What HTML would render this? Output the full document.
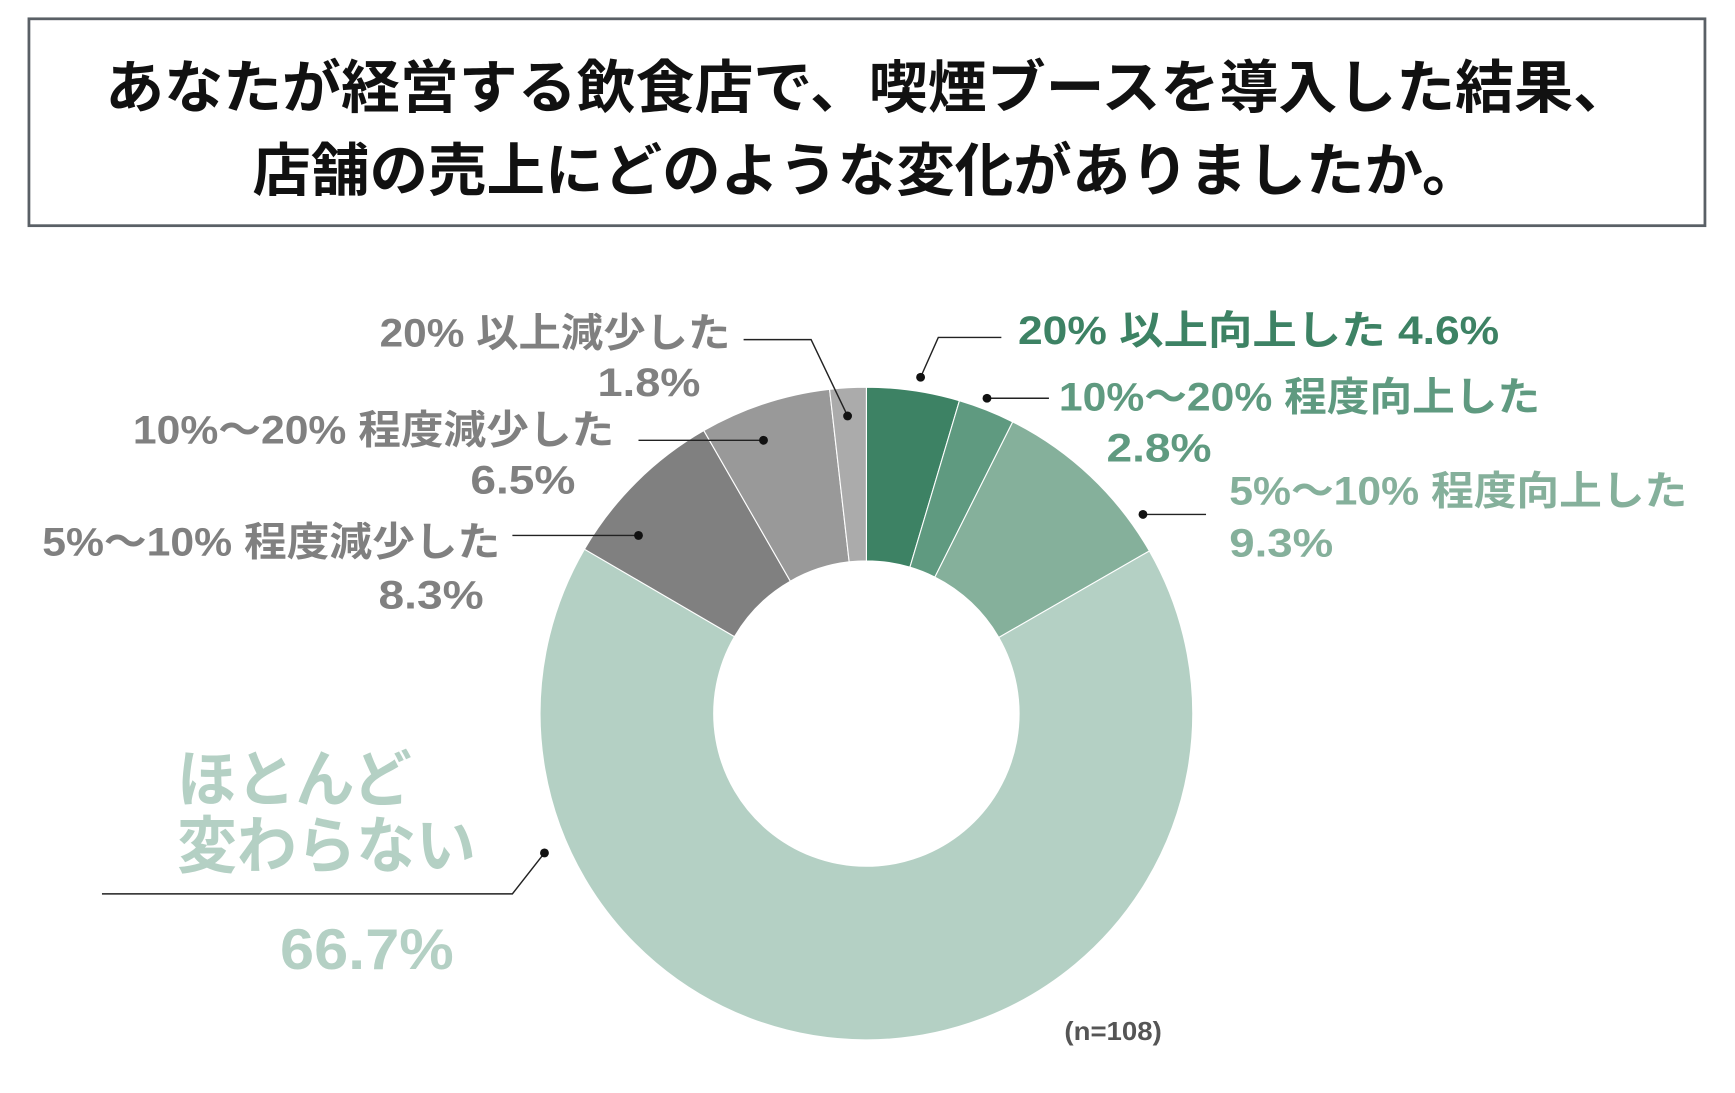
<!DOCTYPE html>
<html><head><meta charset="utf-8"><style>
html,body{margin:0;padding:0;background:#fff;}
svg{display:block;}
text{font-family:"Liberation Sans","Noto Sans CJK JP",sans-serif;font-weight:bold;}
</style></head><body>
<svg id="s" width="1735" height="1093" viewBox="0 0 1568 988" xmlns="http://www.w3.org/2000/svg">
<rect x="26" y="17" width="1515" height="187" fill="#fff" stroke="#5a6066" stroke-width="2.5"/>
<text x="95" y="97" font-size="52" fill="#111" textLength="1380" lengthAdjust="spacingAndGlyphs">あなたが経営する飲食店で、喫煙ブースを導入した結果、</text>
<text x="228" y="172" font-size="52" fill="#111" textLength="1110" lengthAdjust="spacingAndGlyphs">店舗の売上にどのような変化がありましたか。</text>
<g id="pie"></g>
<g stroke="#222" stroke-width="1.3" fill="none">
<polyline points="832,341 848,305 905,305"/>
<polyline points="892,360 948,360"/>
<polyline points="1033,465 1090,465"/>
<polyline points="672,307 733,307 766,376"/>
<polyline points="577,398 690,398"/>
<polyline points="463,484 577,484"/>
<polyline points="92,808 463,808 492,771"/>
</g>
<g fill="#111">
<circle cx="832" cy="341" r="4"/><circle cx="892" cy="360" r="4"/><circle cx="1033" cy="465" r="4"/>
<circle cx="766" cy="376" r="4"/><circle cx="690" cy="398" r="4"/><circle cx="577" cy="484" r="4"/><circle cx="492" cy="771" r="4"/>
</g>
<g font-size="36" lengthAdjust="spacingAndGlyphs">
<text x="920" y="311" fill="#3d8264" textLength="435" lengthAdjust="spacingAndGlyphs">20% 以上向上した  4.6%</text>
<text x="957" y="371" fill="#5f9a80" textLength="435" lengthAdjust="spacingAndGlyphs">10%～20% 程度向上した</text>
<text x="1000" y="417" fill="#5f9a80" textLength="95" lengthAdjust="spacingAndGlyphs">2.8%</text>
<text x="1111" y="456" fill="#85b09b" textLength="414" lengthAdjust="spacingAndGlyphs">5%～10% 程度向上した</text>
<text x="1111" y="503" fill="#85b09b" textLength="94" lengthAdjust="spacingAndGlyphs">9.3%</text>
<g fill="#808080">
<text x="343" y="313" textLength="317" lengthAdjust="spacingAndGlyphs">20% 以上減少した</text>
<text x="540" y="358" textLength="93" lengthAdjust="spacingAndGlyphs">1.8%</text>
<text x="120" y="401" textLength="435" lengthAdjust="spacingAndGlyphs">10%～20% 程度減少した</text>
<text x="425" y="446" textLength="95" lengthAdjust="spacingAndGlyphs">6.5%</text>
<text x="38" y="502" textLength="414" lengthAdjust="spacingAndGlyphs">5%～10% 程度減少した</text>
<text x="342" y="550" textLength="95" lengthAdjust="spacingAndGlyphs">8.3%</text>
</g>
</g>
<text x="160" y="724" font-size="56" fill="#b4d0c4" textLength="212" lengthAdjust="spacingAndGlyphs">ほとんど</text>
<text x="160" y="784" font-size="56" fill="#b4d0c4" textLength="270" lengthAdjust="spacingAndGlyphs">変わらない</text>
<text x="253" y="876" font-size="52" fill="#b4d0c4" textLength="157" lengthAdjust="spacingAndGlyphs">66.7%</text>
<text x="962" y="940" font-size="23" fill="#555" textLength="88" lengthAdjust="spacingAndGlyphs">(n=108)</text>
</svg>
<script>
(function(){
var cx=783,cy=645,R=295,r=138;
var d=[[4.6,"#3d8264"],[2.8,"#5f9a80"],[9.3,"#85b09b"],[66.7,"#b4d0c4"],[8.3,"#808080"],[6.5,"#999999"],[1.8,"#ababab"]];
var g=document.getElementById("pie"),c=0,h="";
function p(a,rr){a=a*Math.PI/180;return [cx+rr*Math.sin(a),cy-rr*Math.cos(a)];}
d.forEach(function(s){var a0=c*3.6,a1=(c+s[0])*3.6;c+=s[0];var L=(a1-a0)>180?1:0;
var o0=p(a0,R),o1=p(a1,R),i1=p(a1,r),i0=p(a0,r);
h+='<path fill="'+s[1]+'" stroke="#fff" stroke-width="1" d="M'+o0+' A'+R+','+R+' 0 '+L+' 1 '+o1+' L'+i1+' A'+r+','+r+' 0 '+L+' 0 '+i0+' Z"/>';});
g.innerHTML=h;
})();
</script>
</body></html>
